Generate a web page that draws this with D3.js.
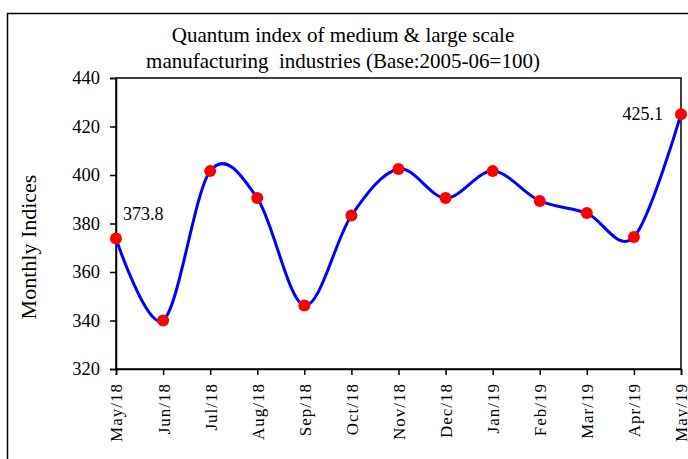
<!DOCTYPE html>
<html><head><meta charset="utf-8">
<script src="https://cdn.jsdelivr.net/npm/d3@7"></script>
<style>body{margin:0;background:#fff}svg{display:block}text{font-family:"Liberation Serif","Times New Roman",serif;fill:#000}</style>
</head><body><svg id="c" width="688" height="459"></svg>
<script>
const months = ["May/18","Jun/18","Jul/18","Aug/18","Sep/18","Oct/18","Nov/18","Dec/18","Jan/19","Feb/19","Mar/19","Apr/19","May/19"];
const indices = [373.8,340.0,401.6,390.5,346.2,383.3,402.5,390.5,401.6,389.3,384.3,374.4,425.1];
const yTicks = [320,340,360,380,400,420,440];
const titleLines = ["Quantum index of medium & large scale","manufacturing  industries (Base:2005-06=100)"];
const yLabel = "Monthly Indices";

const svg = d3.select("#c");
const m = {l:116, r:681, t:78, b:369};
svg.append("rect").attr("x",7.5).attr("y",13.5).attr("width",700).attr("height",460)
  .attr("fill","none").attr("stroke","#000").attr("stroke-width",1.5);

const x = d3.scalePoint().domain(months).range([m.l,m.r]);
const y = d3.scaleLinear().domain([320,440]).range([m.b,m.t]);

svg.append("rect").attr("x",m.l).attr("y",m.t).attr("width",m.r-m.l).attr("height",m.b-m.t)
  .attr("fill","none").attr("stroke","#000").attr("stroke-width",1.5);

const ya = svg.append("g").attr("transform",`translate(${m.l},0)`)
  .call(d3.axisLeft(y).tickValues(yTicks).tickSize(6).tickPadding(10));
ya.select(".domain").attr("stroke-width",1.5);
ya.selectAll("line").attr("stroke-width",1.5);
ya.selectAll("text").style("font-size","18.5px").attr("fill","#000");

const xa = svg.append("g").attr("transform",`translate(0,${m.b})`)
  .call(d3.axisBottom(x).tickSize(6).tickPadding(8));
xa.select(".domain").attr("stroke-width",1.5);
xa.selectAll("line").attr("stroke-width",1.5);
xa.selectAll("text").style("font-size","17px").style("letter-spacing","1px").attr("fill","#000")
  .attr("text-anchor","end").attr("dy","0.35em")
  .attr("transform","rotate(-90)").attr("x",-14).attr("y",0);

const line = d3.line().x((d,i)=>x(months[i])).y(d=>y(d)).curve(d3.curveCatmullRom.alpha(0));
svg.append("path").datum(indices).attr("d",line).attr("fill","none")
  .attr("stroke","#0000ff").attr("stroke-width",3);
svg.selectAll("circle.pt").data(indices).join("circle").attr("class","pt")
  .attr("cx",(d,i)=>x(months[i])).attr("cy",d=>y(d)).attr("r",6).attr("fill","#ff0000");

svg.append("text").attr("x",x(months[0])+7).attr("y",y(indices[0])-19)
  .style("font-size","18px").text(indices[0].toFixed(1));
const last = indices.length-1;
svg.append("text").attr("x",x(months[last])-18).attr("y",y(indices[last])+6)
  .attr("text-anchor","end").style("font-size","18px").text(indices[last].toFixed(1));

svg.selectAll("text.title").data(titleLines).join("text").attr("class","title")
  .attr("x",343).attr("y",(d,i)=>42+i*26).attr("text-anchor","middle")
  .style("font-size","21px").style("white-space","pre").attr("xml:space","preserve").text(d=>d);

svg.append("text").attr("transform",`translate(28,${247}) rotate(-90)`)
  .attr("text-anchor","middle").attr("dy","0.35em").style("font-size","22px").text(yLabel);
</script></body></html>
